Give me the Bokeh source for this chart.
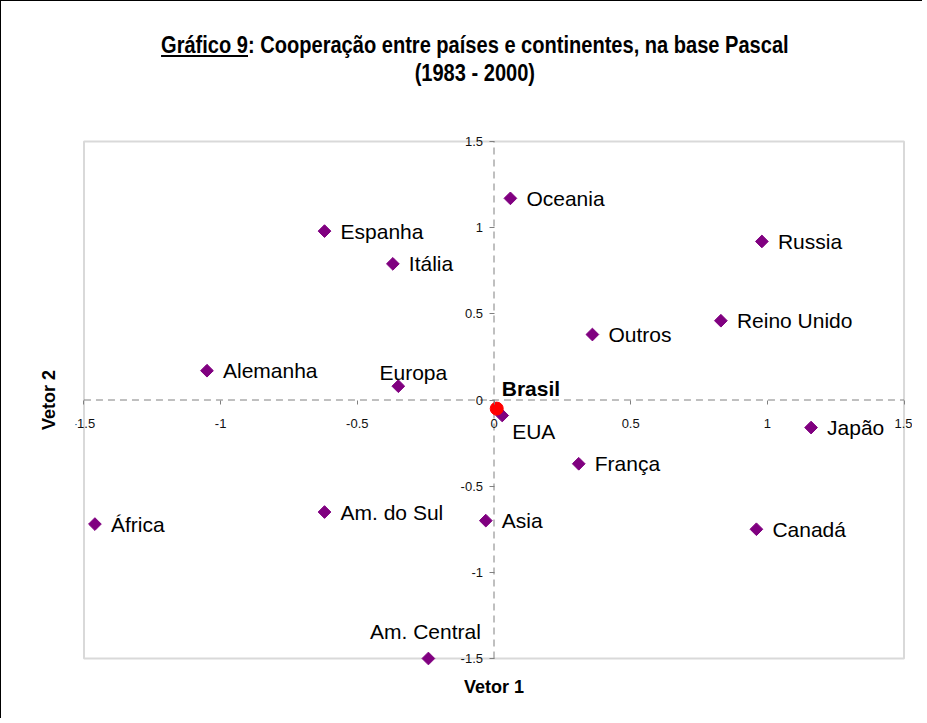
from bokeh.plotting import figure
from bokeh.models import Range1d, FixedTicker, LinearAxis, ColumnDataSource, Div, BoxAnnotation
from bokeh.layouts import column
from bokeh.embed import file_html
from bokeh.resources import INLINE
from bokeh.core.properties import value

# ---- data ----
names = ["Oceania", "Espanha", "Russia", "Itália", "Outros", "Reino Unido", "Alemanha",
         "Europa", "EUA", "Japão", "França", "África", "Am. do Sul", "Asia", "Canadá",
         "Am. Central"]
vetor1 = [0.06, -0.62, 0.98, -0.37, 0.36, 0.83, -1.05, -0.35, 0.03, 1.16, 0.31, -1.46,
          -0.62, -0.03, 0.96, -0.24]
vetor2 = [1.17, 0.98, 0.92, 0.79, 0.38, 0.46, 0.17, 0.08, -0.09, -0.16, -0.37, -0.72,
          -0.65, -0.70, -0.75, -1.50]
brasil_name = ["Brasil"]
brasil_v1 = [0.01]
brasil_v2 = [-0.05]
ticks = [-1.5, -1, -0.5, 0, 0.5, 1, 1.5]
tick_labels = ["-1.5", "-1", "-0.5", "0", "0.5", "1", "1.5"]

# ---- label placement (screen pixels) ----
default_place = (16, 0, "center_left")
special_place = {
    "Europa": (15, -14, "center"),
    "EUA": (10, 16, "center_left"),
    "Am. Central": (-3, -27, "center"),
}
xo, yo, anc = [], [], []
for n in names:
    dx, dy, a = special_place.get(n, default_place)
    xo.append(dx); yo.append(dy); anc.append(a)

src = ColumnDataSource(dict(x=vetor1, y=vetor2, name=names, xo=xo, yo=yo, anc=anc))
bsrc = ColumnDataSource(dict(x=brasil_v1, y=brasil_v2, name=brasil_name))

W = 911
DIV_H = 110
FIG_H = 597

lo, hi = ticks[0], ticks[-1]
PAD_X = 0.031   # invisible margin around the drawn box (so end labels/markers are not clipped)
PAD_Y = 0.058

p = figure(width=W, height=FIG_H,
           x_range=Range1d(lo - PAD_X, hi + PAD_X), y_range=Range1d(lo - PAD_Y, hi + PAD_Y),
           output_backend="svg", toolbar_location=None,
           min_border_left=74, min_border_right=0, min_border_top=10, min_border_bottom=50)
p.grid.visible = False
p.outline_line_color = None
p.background_fill_color = "white"
p.border_fill_color = "white"

FONT = "Liberation Sans"

# outer axes: only titles
for ax in (p.xaxis[0], p.yaxis[0]):
    ax.ticker = FixedTicker(ticks=[])
    ax.axis_line_color = None
    ax.major_tick_line_color = None
    ax.minor_tick_line_color = None
    ax.axis_label_text_font = FONT
    ax.axis_label_text_font_style = "bold"
    ax.axis_label_text_font_size = "18px"
    ax.axis_label_text_color = "black"
p.xaxis[0].axis_label = "Vetor 1"
p.yaxis[0].axis_label = "Vetor 2"
p.xaxis[0].axis_label_standoff = 8
p.yaxis[0].axis_label_standoff = 17

# plot-area box
p.add_layout(BoxAnnotation(left=lo, right=hi, bottom=lo, top=hi, fill_alpha=0,
                           line_color="#808080", line_width=2, level="underlay"))

# dashed cross lines
p.segment(x0=[lo, 0], y0=[0, lo], x1=[hi, 0], y1=[0, hi], line_color="#808080",
          line_width=1, line_dash="7 5", level="underlay")

overrides = {t: l for t, l in zip(ticks, tick_labels)}

xa = LinearAxis(fixed_location=0, ticker=FixedTicker(ticks=ticks), major_label_overrides=overrides,
                axis_line_color=None, major_tick_in=0, major_tick_out=4,
                major_tick_line_color="#808080", minor_tick_line_color=None,
                major_label_standoff=15, major_label_text_font=FONT,
                major_label_text_font_size="13px", major_label_text_color="#111")
p.add_layout(xa, "below")
ya = LinearAxis(fixed_location=0, ticker=FixedTicker(ticks=ticks), major_label_overrides=overrides,
                axis_line_color=None, major_tick_in=0, major_tick_out=5,
                major_tick_line_color="#808080", minor_tick_line_color=None,
                major_label_standoff=6, major_label_text_font=FONT,
                major_label_text_font_size="13px", major_label_text_color="#111")
p.add_layout(ya, "left")

p.scatter("x", "y", source=src, marker="square", angle=0.785398, size=9,
          fill_color="#800080", line_color="#800080")
p.scatter("x", "y", source=bsrc, marker="circle", size=13, fill_color="#FF0000", line_color="#FF0000")

p.text("x", "y", text="name", source=src, x_offset="xo", y_offset="yo", anchor="anc",
       text_font=value(FONT), text_font_size="21px", text_color="black")
p.text("x", "y", text="name", source=bsrc, x_offset=5, y_offset=-20, anchor="center_left",
       text_font=value(FONT), text_font_size="21px", text_font_style="bold", text_color="black")

title_html = (
    "<div style=\"width:%dpx; text-align:center; font-family:'Liberation Sans',sans-serif;"
    " font-weight:bold; font-size:23px; line-height:28px; padding-top:25px; padding-left:27px;"
    " box-sizing:border-box; color:black;\">"
    "<span style=\"display:inline-block; transform:scaleX(0.872); transform-origin:center; white-space:nowrap;\">"
    "<u>Gráfico 9</u>: Cooperação entre países e continentes, na base Pascal<br>(1983 - 2000)</span></div>" % W
)
div = Div(text=title_html, width=W, height=DIV_H, styles={"background-color": "white"})

layout = column(div, p, spacing=0,
                styles={"border-left": "1px solid #000", "border-top": "1px solid #000"})

open("out.html", "w").write(file_html(layout, INLINE))
